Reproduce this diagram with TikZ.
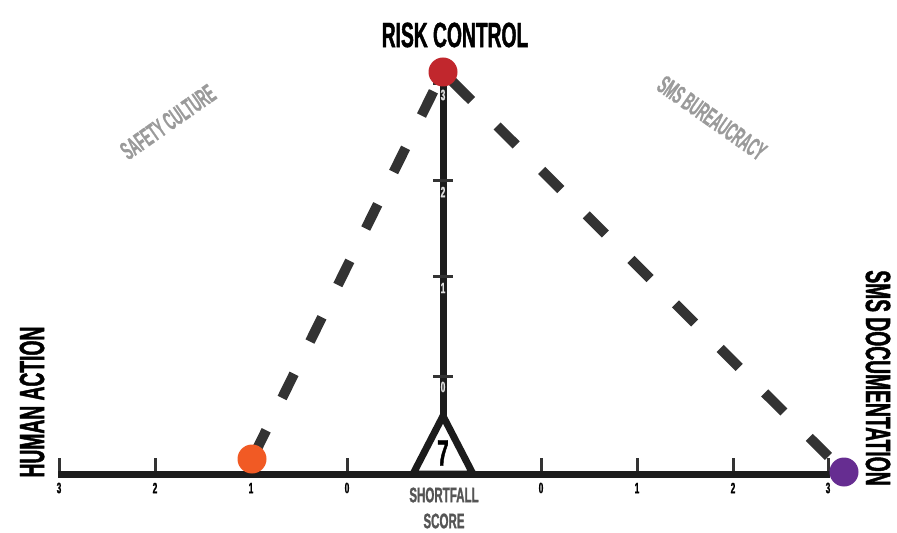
\documentclass[tikz,border=0pt]{standalone}
\usepackage{fontspec}
\usepackage{tikz}
\usetikzlibrary{backgrounds}
\newfontfamily\condfont{Liberation Sans Bold}[FakeStretch=0.55,FakeBold=1.2]
\newfontfamily\narrowfont{Liberation Sans Bold}[FakeStretch=0.47,FakeBold=0.8]
\definecolor{axisblack}{HTML}{1C1C1C}
\definecolor{tickgray}{HTML}{333333}
\definecolor{dashgray}{HTML}{333333}
\definecolor{labelgray}{HTML}{9A9A9A}
\definecolor{scoregray}{HTML}{555555}
\definecolor{dotred}{HTML}{C1272D}
\definecolor{dotorange}{HTML}{F15A24}
\definecolor{dotpurple}{HTML}{662D91}

\begin{document}
\begin{tikzpicture}[x=1bp,y=-1bp,
  ax/.style={draw=axisblack,line width=7bp},
  tk/.style={draw=tickgray,line width=3bp},
  dsh/.style={draw=dashgray,line width=10bp,dash pattern=on 27bp off 36bp},
  dot/.style={circle,inner sep=0pt,minimum size=29bp},
  ttl/.style={font=\condfont\fontsize{35bp}{36bp}\selectfont,inner sep=0pt},
  sub/.style={font=\narrowfont\fontsize{26bp}{26bp}\selectfont,text=labelgray,inner sep=0pt},
  num/.style={font=\condfont\fontsize{15bp}{15bp}\selectfont,inner sep=0pt}]
\useasboundingbox (0,0) rectangle (897,533);
% corners of the scale
\node[dot,fill=dotred] (risk) at (443,72) {};
\node[dot,fill=dotorange] (human) at (252,459) {};
\node[dot,fill=dotpurple] (doc) at (844,472) {};
\begin{scope}[on background layer]
% dashed sides
\draw[dsh,dash phase=58bp] (human.center) -- (risk.center);
\draw[dsh,dash phase=41bp] (doc.center) -- (risk.center);
% axes
\coordinate (hl) at (58,474);
\coordinate (hr) at (830,474);
\coordinate (vb) at (443,416);
\foreach \x/\v [count=\i] in {59/3,155/2,251/1,347/0,541/0,637/1,733/2,828/3}{
  \draw[tk] (\x,458) -- (\x,474);
  \node[num] (hn\i) at (\x,488) {\v};
}
\draw[ax] (hl) -- (hr);
\draw[ax] (risk.center) -- (vb);
\foreach \y/\v/\ly in {84/3/95,181/2/192,277/1/288,376/0/387}{
  \draw[tk] (433,\y) -- (453,\y);
  \node[num,text=white!88!black] (vn\v) at (443,\ly) {\v};
}
\draw[ax,line join=miter] (vb) -- (413,474) -- (473,474) -- cycle;
\end{scope}
\node[ttl,font=\condfont\fontsize{37bp}{37bp}\selectfont] (score) at (443,453) {7};
\node[sub,text=scoregray,font=\condfont\fontsize{21bp}{22bp}\selectfont] (sf1) at (444,495) {SHORTFALL};
\node[sub,text=scoregray,font=\condfont\fontsize{21bp}{22bp}\selectfont] (sf2) at (444,521) {SCORE};
% titles
\node[ttl] (tr) at (455,35) {RISK CONTROL};
\node[ttl,rotate=90] (th) at (32,402) {HUMAN ACTION};
\node[ttl,rotate=-90] (td) at (878,378) {SMS DOCUMENTATION};
\node[sub,rotate=35] (sc) at (168,122) {SAFETY CULTURE};
\node[sub,rotate=-35] (sb) at (712,118) {SMS BUREAUCRACY};
\end{tikzpicture}
\end{document}
